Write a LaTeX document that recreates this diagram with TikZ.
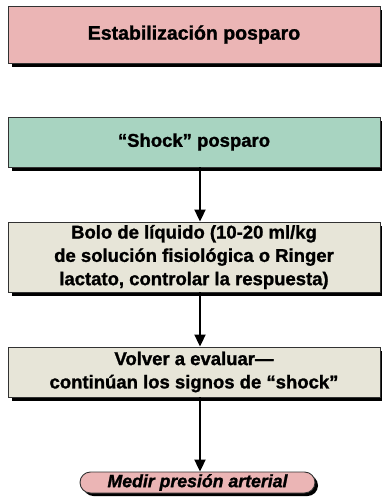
\documentclass[tikz,border=0pt]{standalone}
\usepackage{fontspec}
\setmainfont{Liberation Sans}[BoldFeatures={FakeBold=1.3},BoldItalicFeatures={FakeBold=1.3}]
\usetikzlibrary{arrows.meta,shadows,shapes.misc}
\definecolor{pinkbox}{RGB}{235,181,181}
\definecolor{tealbox}{RGB}{168,212,193}
\definecolor{beigebox}{RGB}{231,229,216}
\definecolor{edge}{RGB}{50,50,50}
\tikzset{
  box/.style={draw=edge, line width=0.9pt, rectangle, inner sep=0pt, align=center,
    minimum width=372pt,
    drop shadow={shadow xshift=4pt, shadow yshift=-4pt, opacity=1, fill=black},
    font=\fontsize{18.5}{23.3}\selectfont\bfseries},
  pill/.style={draw=edge, line width=0.9pt, rounded rectangle, inner sep=0pt,
    minimum width=235pt, minimum height=21pt, fill=pinkbox,
    drop shadow={shadow xshift=3pt, shadow yshift=-3pt, opacity=1, fill=black},
    font=\fontsize{17.7}{20}\selectfont\bfseries\itshape},
  arr/.style={line width=2pt, -{Triangle[length=12pt,width=11pt]}}
}
\begin{document}
\begin{tikzpicture}[x=1pt,y=-1pt]
\useasboundingbox (0,0) rectangle (381,504);
\node[box, fill=pinkbox, minimum height=57pt, font=\fontsize{19.5}{23.3}\selectfont\bfseries] (b1) at (194,34.5) {Estabilización posparo};
\node[box, fill=tealbox, minimum height=50pt] (b2) at (194,142) {“Shock” posparo};
\node[box, fill=beigebox, minimum height=70pt] (b3) at (194,257) {Bolo de líquido (10-20 ml/kg\\de solución fisiológica o Ringer\\lactato, controlar la respuesta)};
\node[box, fill=beigebox, minimum height=50pt] (b4) at (194,372) {Volver a evaluar—\\continúan los signos de “shock”};
\node[pill] (p) at (197.5,482.5) {Medir presión arterial};
\coordinate (ax) at (200,0);
\draw[arr] (b2.south -| ax) -- (b3.north -| ax);
\draw[arr] (b3.south -| ax) -- (b4.north -| ax);
\draw[arr] (b4.south -| ax) -- (p.north -| ax);
\end{tikzpicture}
\end{document}
